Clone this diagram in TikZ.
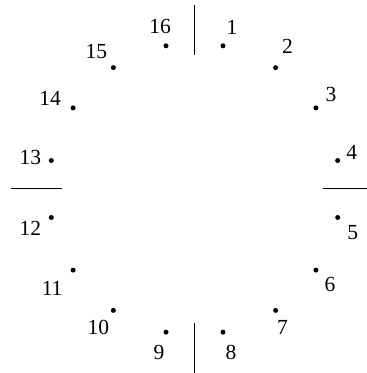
\documentclass[tikz,border=0pt]{standalone}
\usepackage{fontspec}
\setmainfont{Liberation Serif}
\usetikzlibrary{calc}
\tikzset{
  spot/.style={circle,fill=black,inner sep=0pt,minimum size=5pt},
  num/.style={font=\fontsize{21.5}{24}\selectfont,inner sep=0pt},
  cut/.style={line width=1pt}
}

\begin{document}
\begin{tikzpicture}[x=1pt,y=1pt]
  \useasboundingbox (0,0) rectangle (367,373);
  \coordinate (centre) at (194.5,184);
  % sixteen points and their numbers
  \foreach \i/\dx/\dy in {1/9/18,2/12/21,3/15/13,4/14/8,5/15/-15,6/14/-14,7/7/-17,8/8/-20,
                          9/-7/-20,10/-15/-17,11/-21/-18,12/-21/-11,13/-21/3,14/-23/9,15/-17/16,16/-6/19}{
    \node[spot] (p\i) at ($(centre)+({78.75-22.5*(\i-1)}:146)$) {};
    \node[num] (l\i) at ($(p\i)+(\dx,\dy)$) {\i};
  }
  % cuts between the halves
  \foreach \a/\r/\n in {90/134/n,270/134/s,180/133/w,0/128/e}{
    \coordinate (\n in) at ($(centre)+(\a:\r)$);
    \coordinate (\n out) at ($(centre)+(\a:184)$);
    \draw[cut] (\n in) -- (\n out);
  }
\end{tikzpicture}
\end{document}
